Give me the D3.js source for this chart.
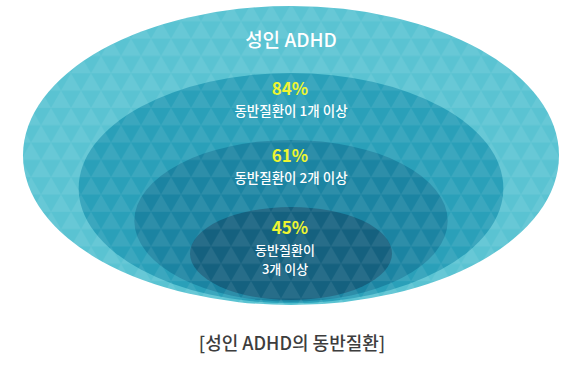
<!DOCTYPE html>
<html>
<head>
<meta charset="utf-8">
<script src="https://cdn.jsdelivr.net/npm/d3@7"></script>
<style>
  body { margin: 0; background: #fff; }
  text { font-family: "Noto Sans CJK KR", "Noto Sans", sans-serif; }
</style>
</head>
<body>
<div id="area"></div>
<script>
// levels from outer to inner
var levels = ["전체", "1개 이상", "2개 이상", "3개 이상"];
var percents = [null, 84, 61, 45];
var titles = ["성인 ADHD", null, null, null];
var subLabels = [null, ["동반질환이 1개 이상"], ["동반질환이 2개 이상"], ["동반질환이", "3개 이상"]];
var fills = ["#5ac3d2", "#2aa0b9", "#1b84a2", "#15617f"];
var caption = "[성인 ADHD의 동반질환]";

var width = 567, height = 368;
var cx = 291;

var svg = d3.select("#area")
.append("svg")
  .attr("width", width)
  .attr("height", height);

// nested ellipses: tops step down, widths shrink, bottoms stay close
var yTop = d3.scalePoint().domain(levels).range([6, 207]);
var yBottom = d3.scalePoint().domain(levels).range([305, 300]);
var rx = d3.scalePoint().domain(levels).range([268, 101]);

// triangle texture
var tw = 20, th = 17.32;
var pat = svg.append("defs").append("pattern")
  .attr("id", "tri")
  .attr("patternUnits", "userSpaceOnUse")
  .attr("x", 1).attr("y", 4)
  .attr("width", tw)
  .attr("height", th * 2);
pat.append("path")
  .attr("d", "M0," + th + "L" + (tw / 2) + ",0L" + tw + "," + th + "Z")
  .style("fill", "#fff").style("opacity", 0.08);
pat.append("path")
  .attr("d", "M-" + (tw / 2) + "," + (th * 2) + "L0," + th + "L" + (tw / 2) + "," + (th * 2) + "Z")
  .style("fill", "#fff").style("opacity", 0.08);
pat.append("path")
  .attr("d", "M" + (tw / 2) + "," + (th * 2) + "L" + tw + "," + th + "L" + (tw * 1.5) + "," + (th * 2) + "Z")
  .style("fill", "#fff").style("opacity", 0.08);

var g = svg.selectAll(".lvl")
.data(levels)
.enter()
.append("g")
  .attr("class", "lvl");

g.append("ellipse")
  .attr("cx", cx)
  .attr("cy", function(d) { return (yTop(d) + yBottom(d)) / 2; })
  .attr("rx", function(d) { return rx(d); })
  .attr("ry", function(d) { return (yBottom(d) - yTop(d)) / 2; })
  .style("fill", function(d, i) { return fills[i]; });

g.append("ellipse")
  .attr("cx", cx)
  .attr("cy", function(d) { return (yTop(d) + yBottom(d)) / 2; })
  .attr("rx", function(d) { return rx(d); })
  .attr("ry", function(d) { return (yBottom(d) - yTop(d)) / 2; })
  .style("fill", "url(#tri)");

// labels
levels.forEach(function(d, i) {
  var y0 = yTop(d);
  if (titles[i]) {
    svg.append("text")
      .attr("x", cx).attr("y", y0 + 41)
      .attr("text-anchor", "middle")
      .style("font-size", "19px")
      .style("font-weight", 500)
      .style("fill", "#fff")
      .text(titles[i]);
  }
  if (percents[i] != null) {
    var lines = subLabels[i];
    var multi = lines.length > 1;
    var shift = multi ? 5 : 0;
    var lx = multi ? cx - 6 : cx;
    svg.append("text")
      .attr("x", cx - 1).attr("y", y0 + 22 + shift)
      .attr("text-anchor", "middle")
      .style("font-size", "17px")
      .style("font-weight", 700)
      .style("fill", "#eef531")
      .text(percents[i] + "%");
    lines.forEach(function(s, j) {
      svg.append("text")
        .attr("x", lx)
        .attr("y", y0 + 43 + shift + j * 19)
        .attr("text-anchor", "middle")
        .style("font-size", multi ? "13px" : "13.5px")
        .style("font-weight", 500)
        .style("fill", "#fff")
        .text(s);
    });
  }
});

svg.append("text")
  .attr("x", 292).attr("y", 350)
  .attr("text-anchor", "middle")
  .style("font-size", "18px")
  .style("font-weight", 500)
  .style("fill", "#3d3d3d")
  .text(caption);
</script>
</body>
</html>
